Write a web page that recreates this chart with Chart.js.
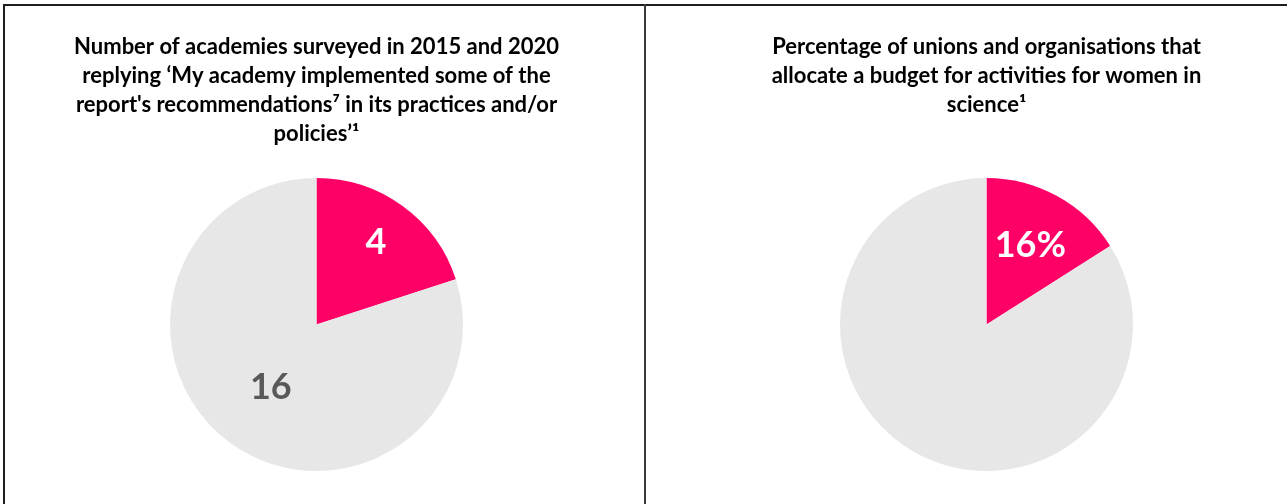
<!doctype html>
<html lang="en">
<head>
<meta charset="utf-8">
<title>Academies and unions - women in science</title>
<style>
  body { margin: 0; background: #fff; }
  #wrap { position: relative; width: 1287px; height: 504px; overflow: hidden; }
  .line { position: absolute; background: #1e1e1e; }
  .box { position: absolute; }
</style>
</head>
<body>
<div id="wrap">
  <div class="line" style="left:3px; top:4px; width:1284px; height:2px;"></div>
  <div class="line" style="left:3px; top:4px; width:2px; height:500px;"></div>
  <div class="line" style="left:644px; top:4px; width:2px; height:500px; background:#3a3a3a;"></div>
  <div class="box" style="left:5px; top:6px; width:623px; height:498px;"><canvas id="academyChart"></canvas></div>
  <div class="box" style="left:686px; top:6px; width:601px; height:498px;"><canvas id="budgetChart"></canvas></div>
</div>
<script src="https://cdn.jsdelivr.net/npm/chart.js@4.4.1/dist/chart.umd.min.js"></script>
<script>
// left chart: academies
const academyTitle = [
  'Number of academies surveyed in 2015 and 2020',
  'replying \u2018My academy implemented some of the',
  'report\'s recommendations\u2077 in its practices and/or',
  'policies\u2019\u00b9'
];
const academyLabels = ['Implemented some recommendations', 'Did not'];
const academyValues = [4, 16];
const academyTexts = ['4', '16'];

// right chart: unions / organisations
const budgetTitle = [
  'Percentage of unions and organisations that',
  'allocate a budget for activities for women in',
  'science\u00b9'
];
const budgetLabels = ['Allocate a budget', 'Do not allocate a budget'];
const budgetValues = [16, 84];
const budgetTexts = ['16%', ''];

const pink = '#FF0066';
const grey = '#E8E7E7';
const fontStack = 'Lato, "Open Sans", sans-serif';

// draws the value text inside each slice
const sliceText = {
  id: 'sliceText',
  afterDatasetsDraw(chart) {
    const ctx = chart.ctx;
    const ds = chart.data.datasets[0];
    const meta = chart.getDatasetMeta(0);
    meta.data.forEach((arc, i) => {
      const txt = ds.texts[i];
      if (!txt) return;
      const mid = (arc.startAngle + arc.endAngle) / 2;
      const d = arc.outerRadius * ds.textDist[i];
      ctx.save();
      ctx.font = 'bold 36px ' + fontStack;
      ctx.fillStyle = ds.textColors[i];
      ctx.textAlign = 'center';
      ctx.textBaseline = 'middle';
      ctx.fillText(txt, arc.x + Math.cos(mid) * d, arc.y + Math.sin(mid) * d);
      ctx.restore();
    });
  }
};

function makePie(id, title, labels, values, texts, textDist, titleBottom) {
  const ctx = document.getElementById(id).getContext('2d');
  return new Chart(ctx, {
    type: 'pie',
    data: {
      labels: labels,
      datasets: [{
        data: values,
        backgroundColor: [pink, grey],
        borderWidth: 0,
        hoverOffset: 0,
        texts: texts,
        textDist: textDist,
        textColors: ['#ffffff', '#595959']
      }]
    },
    options: {
      responsive: true,
      maintainAspectRatio: false,
      animation: false,
      layout: { padding: { bottom: 33 } },
      plugins: {
        legend: { display: false },
        tooltip: { enabled: false },
        title: {
          display: true,
          text: title,
          color: '#000000',
          font: { family: fontStack, size: 22, weight: 'bold', lineHeight: 1.318 },
          padding: { top: 26.5, bottom: titleBottom }
        }
      }
    },
    plugins: [sliceText]
  });
}

makePie('academyChart', academyTitle, academyLabels, academyValues, academyTexts, [0.69, 0.53], 29.5);
makePie('budgetChart', budgetTitle, budgetLabels, budgetValues, budgetTexts, [0.62, 0], 58.5);
</script>
</body>
</html>
